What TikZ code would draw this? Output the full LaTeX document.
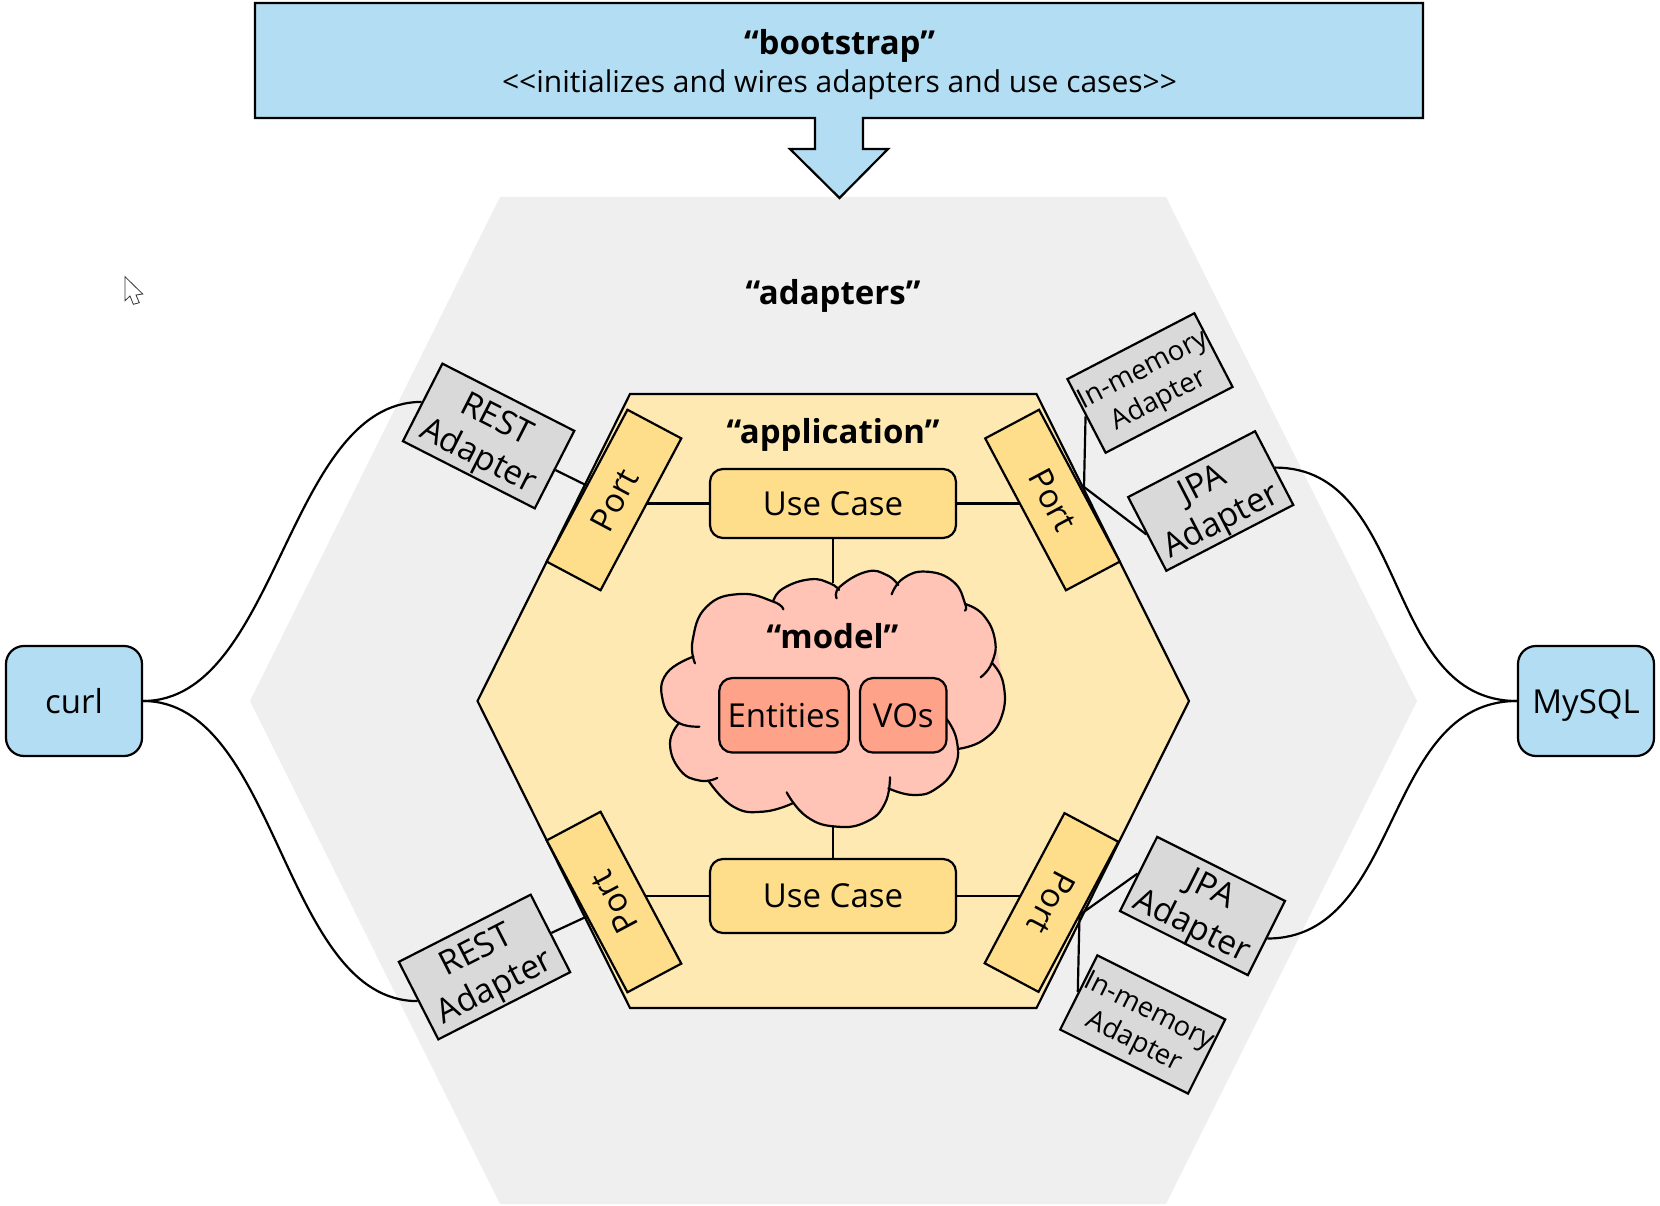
\documentclass[tikz,border=0pt]{standalone}
\usepackage{fontspec}
\setmainfont{Open Sans}
\usetikzlibrary{backgrounds}
\definecolor{cblue}{HTML}{B3DDF2}
\definecolor{cadapt}{HTML}{EFEFEF}
\definecolor{capp}{HTML}{FEE9B3}
\definecolor{cport}{HTML}{FEDD8B}
\definecolor{cgray}{HTML}{D9D9D9}
\definecolor{ccloud}{HTML}{FFC4B5}
\definecolor{cinner}{HTML}{FFA28A}
\newcommand{\fs}[1]{\fontsize{#1}{#1}\selectfont}
\tikzset{
  ln/.style={draw=black,line width=2.2pt},
  portbox/.style={ln,fill=cport,minimum width=172pt,minimum height=61pt,inner sep=0pt,font=\fs{33}},
  adapterbox/.style={ln,fill=cgray,minimum width=143pt,minimum height=83pt,inner sep=0pt,align=center,text depth=0pt},
  bigadapter/.style={adapterbox,font=\fontsize{33.5}{41}\selectfont},
  restbox/.style={bigadapter,minimum width=148pt,minimum height=87pt},
  smalladapter/.style={adapterbox,font=\fontsize{27.5}{34}\selectfont},
  usecase/.style={ln,fill=cport,rounded corners=13pt,minimum width=246pt,inner sep=0pt,font=\fs{33}},
  inner/.style={ln,fill=cinner,rounded corners=13pt,minimum height=74.5pt,inner sep=0pt,font=\fs{33}},
  external/.style={ln,fill=cblue,rounded corners=18pt,minimum width=136pt,minimum height=110pt,inner sep=0pt,font=\fs{33},text height=28pt,text depth=4pt},
  title/.style={font=\bfseries\fs{33}},
}
\newcommand{\cloudlobes}{%
 \lobe{(165,370)(158,300)(200,200)(300,162)(400,185)(430,208)}%
 \lobe{(400,183)(430,145)(510,118)(570,130)(597,150)}%
 \lobe{(590,175)(600,140)(680,95)(740,105)(775,135)}%
 \lobe{(755,163)(790,115)(860,95)(940,125)(975,190)(975,212)}%
 \lobe{(975,192)(1030,225)(1065,300)(1055,370)(1022,412)}%
 \lobe{(1055,368)(1090,430)(1085,530)(1030,600)(953,627)}%
 \lobe{(920,537)(950,600)(945,680)(890,745)(820,765)(745,745)}%
 \lobe{(750,712)(735,790)(680,845)(590,860)(500,830)(440,757)}%
 \lobe{(458,790)(370,815)(280,800)(205,722)}%
 \lobe{(232,714)(180,722)(120,690)(90,610)(118,548)}%
 \lobe{(178,560)(110,545)(68,480)(80,400)(160,350)}%
}
\begin{document}
\begin{tikzpicture}[x=1pt,y=-1pt]
\useasboundingbox (0,0) rectangle (1660,1206);
\begin{scope}[on background layer]
  \fill[cadapt] (500,197) -- (1166,197) -- (1417,701) -- (1166,1204) -- (500,1204) -- (250,701) -- cycle;
  \path[ln,fill=capp] (630,394) -- (1036.5,394) -- (1189,701) -- (1036.5,1008) -- (630,1008) -- (477.5,701) -- cycle;
\end{scope}
% bootstrap banner with arrow
\path[ln,fill=cblue] (255,3) -- (1423,3) -- (1423,118) -- (863,118) -- (863,149) -- (888,149) -- (839.5,198) -- (790,149) -- (815,149) -- (815,118) -- (255,118) -- cycle;
\node[title] (boot) at (839.5,46) {“bootstrap”};
\node[font=\fs{30}] (bootsub) at (839.5,85) {<{}<initializes and wires adapters and use cases>{}>};
\node[title] (adapters) at (833,296) {“adapters”};
\node[title] (application) at (833,435) {“application”};
% use cases
\node[usecase,minimum height=69pt] (uc1) at (833,503.5) {Use Case};
\node[usecase,minimum height=74pt] (uc2) at (833,896) {Use Case};
% cloud
\begin{scope}[shift={(640,540)},x=0.3333pt,y=-0.3333pt]
  \def\lobe#1{\fill[ccloud] plot[smooth,tension=0.8] coordinates {#1};}
  \fill[ccloud] (165,370) -- (200,200) -- (300,162) -- (400,185) -- (510,118) -- (597,150) -- (680,95) -- (775,135) -- (860,95) -- (975,190) -- (1065,300) -- (1090,430) -- (1030,600) -- (953,627) -- (945,680) -- (820,765) -- (745,745) -- (680,845) -- (590,860) -- (458,790) -- (370,815) -- (280,800) -- (205,722) -- (120,690) -- (118,548) -- (68,480) -- (160,350) -- cycle;
  \cloudlobes
  \def\lobe#1{\draw[black,line width=2.2pt,line cap=round] plot[smooth,tension=0.8] coordinates {#1};}
  \cloudlobes
\end{scope}
\coordinate (cloudtop) at (833,583);
\coordinate (cloudbottom) at (833,827);
\node[title] (model) at (832.5,636) {“model”};
\node[inner,minimum width=129.5pt] (entities) at (784,715.3) {Entities};
\node[inner,minimum width=86.5pt] (vos) at (903.3,715.3) {VOs};
% ports
\node[portbox,rotate=62] (p1) at (614,500) {Port};
\node[portbox,rotate=-62] (p2) at (1052.5,500) {Port};
\node[portbox,rotate=118] (p3) at (614,902) {Port};
\node[portbox,rotate=242,minimum width=170pt] (p4) at (1051.5,902.5) {Port};
\coordinate (p2tap) at (1084,487);
\coordinate (p4tap) at (1079.5,915);
% adapters
\node[restbox,rotate=-27] (rest1) at (488.6,436) {REST\\Adapter};
\node[restbox,rotate=27] (rest2) at (484.5,967) {REST\\Adapter};
\node[smalladapter,rotate=27.4] (mem1) at (1150,383) {In-memory\\Adapter};
\node[bigadapter,rotate=27.4] (jpa1) at (1210.7,501) {JPA\\Adapter};
\node[bigadapter,rotate=-26.6] (jpa2) at (1202.5,906) {JPA\\Adapter};
\node[smalladapter,rotate=-26.6] (mem2) at (1142.7,1024.5) {In-memory\\Adapter};
% externals
\node[external] (curl) at (74,701) {curl};
\node[external] (mysql) at (1586,701) {MySQL};
% connectors
\begin{scope}[on background layer]
  \draw[ln] (uc1.west) -- (uc1.west -| p1.center);
  \draw[ln] (uc1.east) -- (uc1.east -| p2.center);
  \draw[ln] (uc2.west) -- (uc2.west -| p3.center);
  \draw[ln] (uc2.east) -- (uc2.east -| p4.center);
  \draw[ln] (uc1.south) -- (cloudtop);
  \draw[ln] (uc2.north) -- (cloudbottom);
  \draw[ln] (rest1.east) -- (p1.north);
  \draw[ln] (rest2.east) -- (p3.north);
  \draw[ln] (p2tap) -- (mem1.west);
  \draw[ln] (p2tap) -- (jpa1.west);
  \draw[ln] (p4tap) -- (jpa2.west);
  \draw[ln] (p4tap) -- (mem2.west);
  \draw[ln] (curl.east) .. controls +(135,0) and +(-135,0) .. (rest1.west);
  \draw[ln] (curl.east) .. controls +(135,0) and +(-135,0) .. (rest2.west);
  \draw[ln] (mysql.west) .. controls +(-135,0) and +(135,0) .. (jpa1.east);
  \draw[ln] (mysql.west) .. controls +(-135,0) and +(135,0) .. (jpa2.east);
\end{scope}
% pointer
\path[draw=black!80,fill=white,line width=0.8pt] (125,276.7) -- (142.7,294) -- (136,295) -- (139.3,302.7) -- (133.3,304.3) -- (130,296) -- (125,300.7) -- cycle;
\end{tikzpicture}
\end{document}
